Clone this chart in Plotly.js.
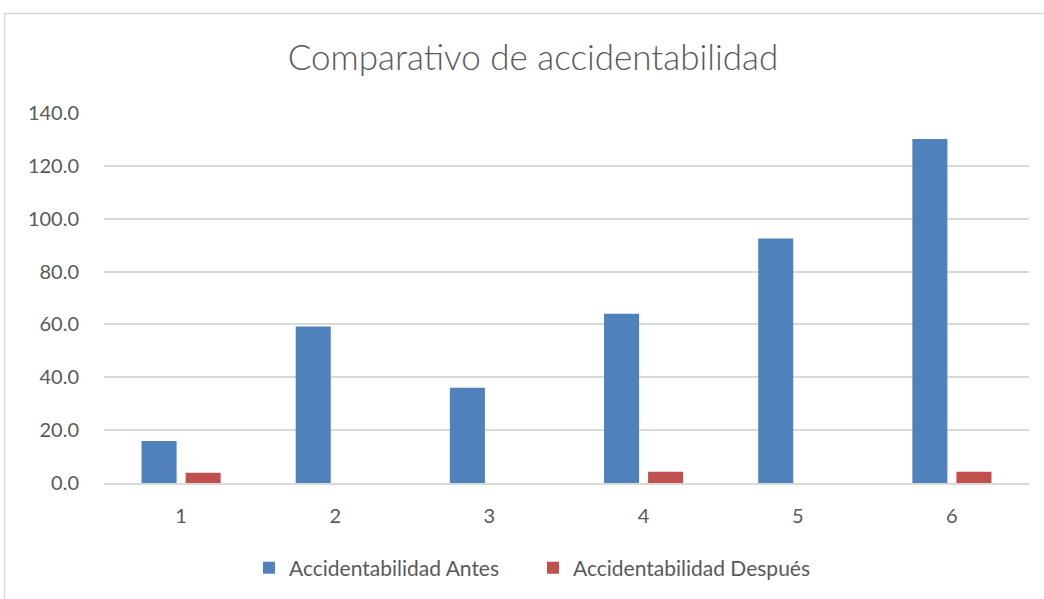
<!DOCTYPE html>
<html>
<head>
<meta charset="utf-8">
<script src="https://cdn.plot.ly/plotly-3.0.1.min.js"></script>
<style>html,body{margin:0;padding:0;background:#fff;}#chart{width:1044px;height:599px;}</style>
</head>
<body>
<div id="chart"></div>
<script>
const categories = ['1', '2', '3', '4', '5', '6'];
const antes = [15.9, 59.2, 36.0, 64.0, 92.5, 130.2];
const despues = [3.9, 0, 0, 4.3, 0, 4.3];
const seriesNames = ['Accidentabilidad Antes', 'Accidentabilidad Después'];
const yTicks = [0, 20, 40, 60, 80, 100, 120, 140];
const yTickLabels = ['0.0', '20.0', '40.0', '60.0', '80.0', '100.0', '120.0', '140.0'];

const FONT = 'Lato, Open Sans, sans-serif';
const traces = [
  {type: 'bar', name: seriesNames[0], x: categories, y: antes,
   marker: {color: '#4f81bd', line: {width: 0}}},
  {type: 'bar', name: seriesNames[1], x: categories, y: despues,
   marker: {color: '#c0504d', line: {width: 0}}}
];

const pl = 104, pr = 1029, pt = 113.3, pb = 484;
const W = pr - pl, H = pb - pt;
const px = v => (v - pl) / W;
const py = v => (pb - v) / H;

const layout = {
  width: 1044, height: 599,
  margin: {l: pl, r: 1044 - pr, t: pt, b: 599 - pb, pad: 0},
  paper_bgcolor: '#ffffff', plot_bgcolor: '#ffffff',
  font: {family: FONT, color: '#595959', size: 20},
  title: {text: 'Comparativo de accidentabilidad', xref: 'container', yref: 'container',
          x: 533 / 1044, y: 1 - 58 / 599, xanchor: 'center', yanchor: 'middle',
          font: {family: FONT, size: 35, color: '#595959', weight: 300}},
  barmode: 'group', bargap: 0.4286, bargroupgap: 0.2045,
  xaxis: {type: 'category', showgrid: false, zeroline: false, showline: true, linecolor: '#d9d9d9', linewidth: 1.5,
          ticks: 'outside', ticklen: 14, tickcolor: 'rgba(0,0,0,0)', tickfont: {size: 20, color: '#595959'}},
  yaxis: {range: [0, 140], tickvals: yTicks, ticktext: yTickLabels, showgrid: true, gridcolor: '#d9d9d9', gridwidth: 1.5,
          zeroline: false, showline: false, ticks: 'outside', ticklen: 20, tickcolor: 'rgba(0,0,0,0)',
          tickfont: {size: 20, color: '#595959'}},
  showlegend: true,
  legend: {orientation: 'h', x: px(262 - 13), y: py(568), xanchor: 'left', yanchor: 'middle',
           font: {size: 21, color: '#595959'}, itemwidth: 30, entrywidth: 239, entrywidthmode: 'pixels'},
  shapes: [{type: 'rect', xref: 'paper', yref: 'paper', x0: px(4.5), x1: px(1100), y0: py(700), y1: py(13.5),
            line: {color: '#d9d9d9', width: 1.5}, fillcolor: 'rgba(0,0,0,0)', layer: 'below'}]
};

Plotly.newPlot('chart', traces, layout, {displayModeBar: false, responsive: false});
</script>
</body>
</html>
